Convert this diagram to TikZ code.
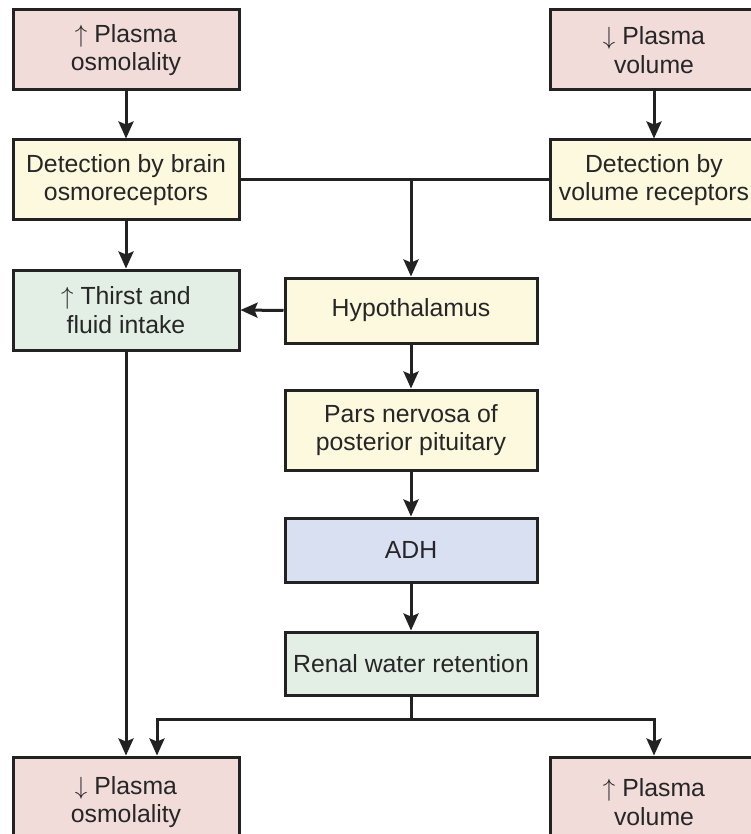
\documentclass[tikz,border=0pt]{standalone}
\usepackage{fontspec}
\setmainfont{Liberation Sans}
\usetikzlibrary{arrows.meta,calc}

\definecolor{pinkbox}{HTML}{F1DCDA}
\definecolor{yellowbox}{HTML}{FCF9DE}
\definecolor{greenbox}{HTML}{E3EEE4}
\definecolor{bluebox}{HTML}{D9E0F2}
\definecolor{edge}{HTML}{222222}

% thin arrows set before a label
\newcommand{\incr}{$\uparrow$\ }
\newcommand{\decr}{$\downarrow$\ }

\tikzset{
  box/.style={draw=edge, line width=3pt, rectangle, inner sep=0pt,
    align=center, text=black!85,
    font=\fontsize{24.8}{28.5}\selectfont},
  pinkb/.style={box, fill=pinkbox},
  yellowb/.style={box, fill=yellowbox},
  greenb/.style={box, fill=greenbox},
  blueb/.style={box, fill=bluebox},
  wide/.style={minimum width=226pt, minimum height=80pt},
  side/.style={minimum width=208pt, minimum height=80pt},
  mid/.style={minimum width=252pt},
  link/.style={draw=edge, line width=3pt},
  arr/.style={link, -{Stealth[length=17pt,width=15pt,inset=3pt]}}
}

\begin{document}
\begin{tikzpicture}[x=1pt,y=-1pt]
  \clip (0,0) rectangle (751,834);
  \fill[white] (0,0) rectangle (751,834);

  % inputs
  \node[pinkb, wide] (osmup) at (126,50) {\incr Plasma\\osmolality};
  \node[pinkb, side] (voldown) at (654,50) {\decr Plasma\\volume};

  % detection
  \node[yellowb, wide] (osmorec) at (126,180) {Detection by brain\\osmoreceptors};
  \node[yellowb, side] (volrec) at (654,180) {Detection by\\volume receptors};

  % thirst and central pathway
  \node[greenb, wide] (thirst) at (126,310) {\incr Thirst and\\fluid intake};
  \node[yellowb, mid, minimum height=65pt] (hypo) at (411,310.5) {Hypothalamus};
  \node[yellowb, mid, minimum height=80pt] (pars) at (411,430) {Pars nervosa of\\posterior pituitary};
  \node[blueb, mid, minimum height=64pt] (adh) at (411,550) {ADH};
  \node[greenb, mid, minimum height=63pt] (renal) at (411,663.5) {Renal water retention};

  % outcomes
  \node[pinkb, wide, minimum height=90pt] (osmdown) at (126,802) {\decr Plasma\\osmolality};
  \node[pinkb, side, minimum height=90pt] (volup) at (654,802) {\incr Plasma\\volume};

  % junction points
  \coordinate (top) at (411,180);
  \coordinate (bottom) at (411,719);

  % connectors
  \draw[arr] (osmup) -- (osmorec);
  \draw[arr] (voldown) -- (volrec);
  \draw[arr] (osmorec) -- (thirst);
  \draw[link] (osmorec.east) -- (volrec.west);
  \draw[arr] (top) -- (hypo.north);
  \draw[arr] (hypo.west) -- (thirst.east);
  \draw[arr] (hypo) -- (pars);
  \draw[arr] (pars) -- (adh);
  \draw[arr] (adh) -- (renal);
  \draw[arr] (thirst) -- (osmdown);
  \draw[link] (renal.south) -- (bottom);
  \draw[arr] (bottom) -| ([xshift=31pt]osmdown.north);
  \draw[arr] (bottom) -| (volup.north);
\end{tikzpicture}
\end{document}
